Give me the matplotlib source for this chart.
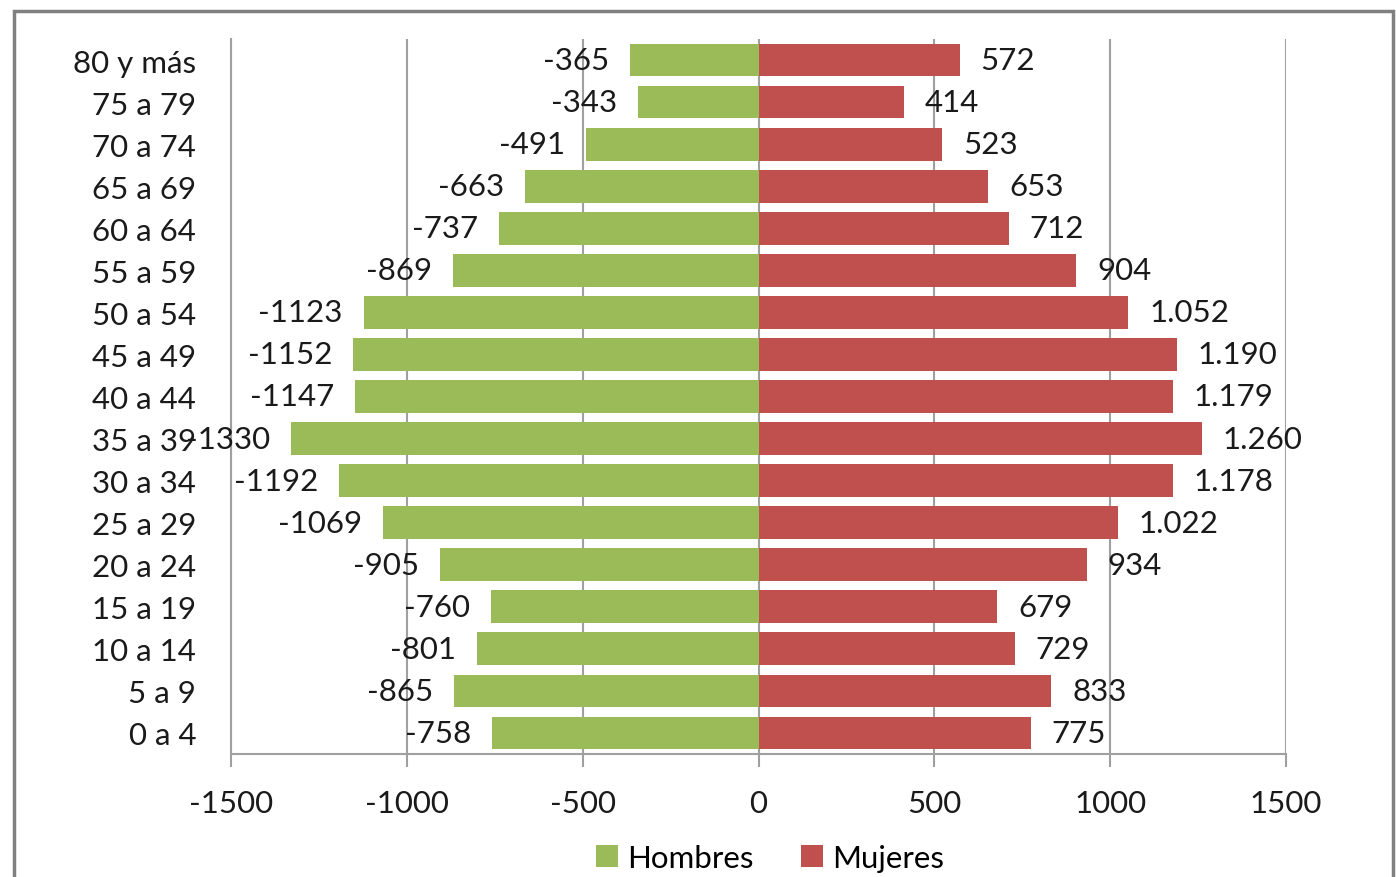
import matplotlib.pyplot as plt
import matplotlib.patches as patches

# DATA
grupos = ['0 a 4', '5 a 9', '10 a 14', '15 a 19', '20 a 24', '25 a 29', '30 a 34',
          '35 a 39', '40 a 44', '45 a 49', '50 a 54', '55 a 59', '60 a 64',
          '65 a 69', '70 a 74', '75 a 79', '80 y más']
hombres = [-758, -865, -801, -760, -905, -1069, -1192, -1330, -1147, -1152,
           -1123, -869, -737, -663, -491, -343, -365]
mujeres = [775, 833, 729, 679, 934, 1022, 1178, 1260, 1179, 1190, 1052,
           904, 712, 653, 523, 414, 572]
xticks = [-1500, -1000, -500, 0, 500, 1000, 1500]

verde = '#9BBB59'
rojo = '#C0504D'
gris = '#A0A0A0'
fs = 22.5

plt.rcParams['font.family'] = ['Lato', 'DejaVu Sans']

fig = plt.figure(figsize=(13.96, 8.78), dpi=100)
ax = fig.add_axes([231/1396, 1-755/878, (1286-231)/1396, (755-40)/878])

y = range(len(grupos))
bh = ax.barh(y, hombres, height=0.78, color=verde, label='Hombres', zorder=3)
bm = ax.barh(y, mujeres, height=0.78, color=rojo, label='Mujeres', zorder=3)

ax.bar_label(bh, labels=[str(v) for v in hombres], padding=15, fontsize=fs, color='#1a1a1a')
ax.bar_label(bm, labels=[f'{v:,}'.replace(',', '.') for v in mujeres], padding=15,
             fontsize=fs, color='#1a1a1a')

ax.set_xlim(-1500, 1500)
ax.set_ylim(-0.5, len(grupos) - 0.5)
ax.set_xticks(xticks)
ax.set_xticklabels([str(t) for t in xticks], fontsize=fs, color='#1a1a1a')
ax.set_yticks(list(y))
ax.set_yticklabels(grupos, fontsize=fs, color='#1a1a1a')

ax.xaxis.grid(True, color=gris, linewidth=1.5, zorder=0)
ax.tick_params(axis='x', length=9, width=1.5, color=gris, pad=16)
ax.tick_params(axis='y', length=0, pad=25)
for s in ['top', 'right']:
    ax.spines[s].set_visible(False)
for s in ['left', 'bottom']:
    ax.spines[s].set_color(gris)
    ax.spines[s].set_linewidth(1.5)

fig.legend(handles=[bh, bm], labels=['Hombres', 'Mujeres'], loc='center',
           bbox_to_anchor=(770/1396, 1-859/878), ncol=2, frameon=False, fontsize=fs,
           handlelength=0.7, handleheight=0.7, handletextpad=0.3, columnspacing=1.5)

# marco
fig.add_artist(patches.Rectangle((14/1396, -0.05), (1393-14)/1396, 1.05-12/878,
                                 transform=fig.transFigure, fill=False,
                                 edgecolor='#808080', linewidth=2.5, clip_on=False))

fig.savefig('out.png', dpi=100)
